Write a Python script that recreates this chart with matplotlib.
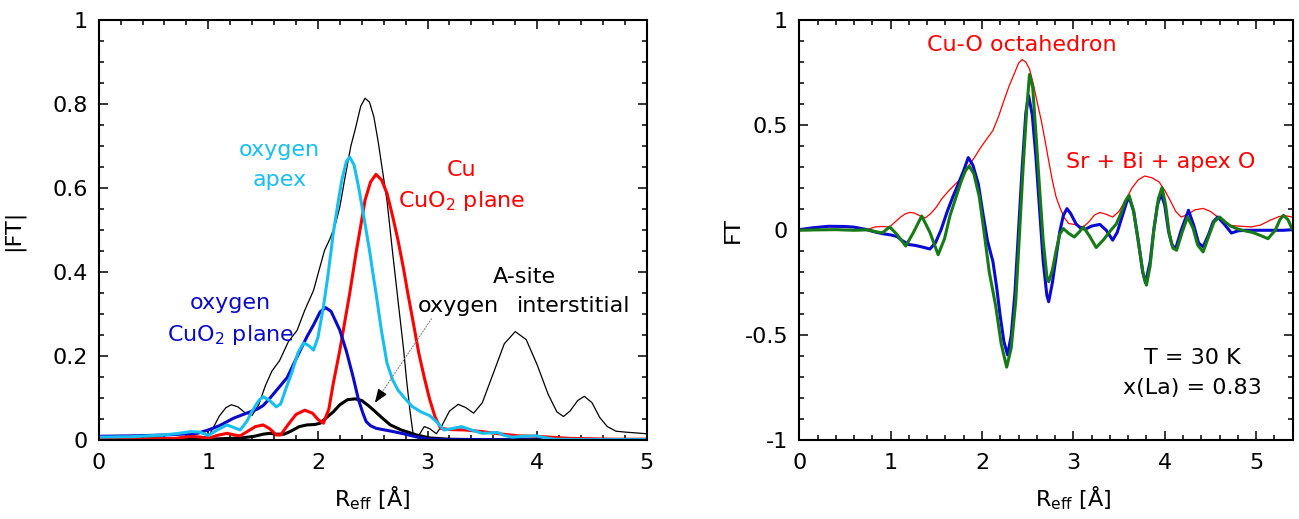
import numpy as np
import matplotlib
matplotlib.use("Agg")
import matplotlib.pyplot as plt
from matplotlib.ticker import MultipleLocator, FuncFormatter

plt.rcParams['font.family'] = ['DejaVu Sans']
plt.rcParams['mathtext.fontset'] = 'dejavusans'
plt.rcParams['axes.unicode_minus'] = False

# --- left panel: |FT| contributions (R_eff, |FT|) ---
total_abs = [(0.0, 0.006), (0.3, 0.006), (0.6, 0.006), (0.9, 0.007), (1.0, 0.009), (1.05, 0.033),
             (1.1, 0.058), (1.16, 0.078), (1.21, 0.085), (1.27, 0.08), (1.33, 0.067), (1.4, 0.06),
             (1.46, 0.085), (1.52, 0.13), (1.58, 0.165), (1.65, 0.19), (1.73, 0.235), (1.81, 0.262),
             (1.88, 0.31), (1.96, 0.357), (2.01, 0.405), (2.06, 0.452), (2.11, 0.48), (2.16, 0.515),
             (2.2, 0.556), (2.25, 0.63), (2.3, 0.7), (2.34, 0.74), (2.39, 0.795), (2.43, 0.814),
             (2.47, 0.805), (2.51, 0.77), (2.55, 0.71), (2.59, 0.64), (2.63, 0.57), (2.68, 0.45),
             (2.73, 0.334), (2.78, 0.22), (2.81, 0.14), (2.84, 0.07), (2.87, 0.012), (2.92, 0.012),
             (2.97, 0.033), (3.02, 0.028), (3.08, 0.016), (3.13, 0.035), (3.2, 0.07), (3.28, 0.086),
             (3.35, 0.078), (3.42, 0.065), (3.5, 0.09), (3.6, 0.16), (3.7, 0.23), (3.8, 0.259),
             (3.9, 0.24), (4.0, 0.18), (4.1, 0.11), (4.18, 0.068), (4.24, 0.057), (4.3, 0.07),
             (4.37, 0.095), (4.43, 0.105), (4.5, 0.09), (4.57, 0.055), (4.64, 0.033), (4.72, 0.022),
             (4.8, 0.02), (4.9, 0.018), (5.0, 0.016)]

o_plane = [(0.0, 0.01), (0.3, 0.011), (0.6, 0.013), (0.9, 0.017), (1.0, 0.025), (1.1, 0.035),
           (1.23, 0.053), (1.35, 0.065), (1.45, 0.075), (1.5, 0.083), (1.56, 0.1), (1.65, 0.128),
           (1.72, 0.15), (1.78, 0.183), (1.84, 0.215), (1.9, 0.247), (1.96, 0.275), (2.02, 0.306),
           (2.07, 0.316), (2.12, 0.307), (2.2, 0.262), (2.26, 0.212), (2.32, 0.152), (2.37, 0.097),
           (2.41, 0.065), (2.44, 0.045), (2.48, 0.035), (2.53, 0.029), (2.61, 0.025), (2.69, 0.021),
           (2.78, 0.016), (2.86, 0.011), (2.94, 0.006), (3.02, 0.003), (3.2, 0.002), (3.5, 0.002),
           (4.0, 0.001), (5.0, 0.001)]

o_apex = [(0.0, 0.008), (0.3, 0.009), (0.58, 0.013), (0.7, 0.016), (0.84, 0.021), (0.92, 0.02),
          (1.0, 0.012), (1.08, 0.025), (1.17, 0.037), (1.24, 0.03), (1.29, 0.025), (1.35, 0.045),
          (1.4, 0.07), (1.46, 0.095), (1.5, 0.104), (1.56, 0.095), (1.62, 0.08), (1.66, 0.087),
          (1.71, 0.125), (1.76, 0.16), (1.82, 0.21), (1.87, 0.232), (1.92, 0.225), (1.96, 0.215),
          (2.0, 0.245), (2.05, 0.318), (2.09, 0.39), (2.14, 0.493), (2.18, 0.56), (2.22, 0.622),
          (2.26, 0.664), (2.29, 0.674), (2.33, 0.655), (2.37, 0.604), (2.42, 0.53), (2.47, 0.453),
          (2.5, 0.4), (2.53, 0.35), (2.58, 0.26), (2.63, 0.184), (2.68, 0.145), (2.73, 0.12),
          (2.8, 0.098), (2.86, 0.081), (2.94, 0.068), (3.02, 0.059), (3.08, 0.045), (3.15, 0.025),
          (3.22, 0.028), (3.31, 0.033), (3.4, 0.025), (3.5, 0.017), (3.57, 0.018), (3.64, 0.019),
          (3.7, 0.012), (3.77, 0.008), (3.88, 0.01), (3.99, 0.011), (4.08, 0.006), (4.16, 0.003),
          (4.5, 0.002), (5.0, 0.002)]

cu_plane = [(0.0, 0.003), (0.4, 0.003), (0.7, 0.005), (0.84, 0.01), (0.93, 0.008), (1.0, 0.005),
            (1.08, 0.012), (1.17, 0.017), (1.24, 0.013), (1.29, 0.011), (1.36, 0.022), (1.43, 0.033),
            (1.5, 0.037), (1.56, 0.028), (1.62, 0.013), (1.66, 0.013), (1.72, 0.035), (1.8, 0.062),
            (1.88, 0.072), (1.95, 0.065), (2.0, 0.05), (2.05, 0.041), (2.1, 0.075), (2.14, 0.136),
            (2.2, 0.215), (2.25, 0.29), (2.29, 0.35), (2.35, 0.45), (2.39, 0.51), (2.43, 0.572),
            (2.48, 0.615), (2.53, 0.633), (2.58, 0.62), (2.63, 0.588), (2.68, 0.535), (2.73, 0.477),
            (2.78, 0.41), (2.82, 0.35), (2.87, 0.28), (2.92, 0.208), (2.97, 0.15), (3.02, 0.097),
            (3.07, 0.055), (3.12, 0.029), (3.2, 0.026), (3.34, 0.025), (3.5, 0.021), (3.65, 0.016),
            (3.83, 0.011), (3.99, 0.01), (4.3, 0.005), (4.7, 0.003), (5.0, 0.003)]

o_inter = [(0.0, 0.002), (0.5, 0.002), (1.0, 0.003), (1.3, 0.006), (1.42, 0.01), (1.5, 0.015),
           (1.56, 0.017), (1.62, 0.015), (1.69, 0.015), (1.745, 0.021), (1.83, 0.033), (1.9, 0.037),
           (1.97, 0.038), (2.02, 0.041), (2.08, 0.055), (2.14, 0.068), (2.2, 0.085), (2.27, 0.097),
           (2.34, 0.099), (2.4, 0.095), (2.46, 0.083), (2.5, 0.074), (2.58, 0.055), (2.66, 0.037),
           (2.76, 0.025), (2.9, 0.013), (3.02, 0.006), (3.2, 0.003), (3.5, 0.002), (4.0, 0.002),
           (5.0, 0.002)]

# --- right panel: FT (R_eff, FT) ---
octahedron = [(0.0, 0.0), (0.3, 0.0), (0.6, 0.002), (0.75, 0.004), (0.83, 0.016), (0.9, 0.018),
              (0.99, 0.016), (1.05, 0.04), (1.11, 0.063), (1.16, 0.078), (1.21, 0.085), (1.26, 0.082),
              (1.31, 0.071), (1.38, 0.059), (1.44, 0.08), (1.5, 0.11), (1.56, 0.15), (1.64, 0.19),
              (1.72, 0.225), (1.8, 0.26), (1.86, 0.31), (1.92, 0.348), (1.98, 0.39), (2.04, 0.427),
              (2.12, 0.475), (2.18, 0.54), (2.24, 0.617), (2.3, 0.69), (2.36, 0.752), (2.4, 0.795),
              (2.44, 0.812), (2.48, 0.8), (2.52, 0.767), (2.56, 0.7), (2.6, 0.617), (2.65, 0.52),
              (2.69, 0.427), (2.73, 0.33), (2.77, 0.237), (2.81, 0.16), (2.85, 0.111), (2.9, 0.06),
              (2.95, 0.032), (3.01, 0.028), (3.06, 0.02), (3.11, 0.016), (3.17, 0.04), (3.23, 0.072),
              (3.29, 0.085), (3.36, 0.076), (3.43, 0.063), (3.5, 0.09), (3.57, 0.142), (3.64, 0.2),
              (3.71, 0.24), (3.78, 0.258), (3.86, 0.25), (3.94, 0.229), (4.0, 0.19), (4.06, 0.142),
              (4.12, 0.09), (4.18, 0.063), (4.25, 0.075), (4.33, 0.097), (4.42, 0.104), (4.5, 0.09),
              (4.58, 0.063), (4.65, 0.038), (4.71, 0.024), (4.8, 0.02), (4.95, 0.016), (5.05, 0.025),
              (5.15, 0.047), (5.25, 0.065), (5.31, 0.07), (5.4, 0.063)]

ft_blue = [(0.0, 0.003), (0.15, 0.012), (0.32, 0.019), (0.5, 0.018), (0.6, 0.015), (0.72, 0.005),
           (0.83, -0.008), (0.91, -0.016), (1.0, -0.022), (1.07, -0.03), (1.13, -0.05), (1.2, -0.068),
           (1.27, -0.072), (1.35, -0.08), (1.43, -0.089), (1.49, -0.06), (1.55, 0.0), (1.62, 0.09),
           (1.68, 0.158), (1.74, 0.22), (1.8, 0.285), (1.85, 0.346), (1.9, 0.31), (1.96, 0.22),
           (2.01, 0.08), (2.06, -0.05), (2.12, -0.15), (2.16, -0.27), (2.2, -0.41), (2.24, -0.53),
           (2.28, -0.593), (2.32, -0.5), (2.36, -0.3), (2.4, 0.0), (2.44, 0.3), (2.48, 0.56),
           (2.51, 0.641), (2.55, 0.55), (2.59, 0.35), (2.63, 0.1), (2.67, -0.15), (2.71, -0.31),
           (2.73, -0.34), (2.77, -0.25), (2.81, -0.13), (2.85, -0.01), (2.89, 0.07), (2.93, 0.103),
           (2.97, 0.08), (3.03, 0.03), (3.08, 0.01), (3.13, 0.005), (3.2, 0.02), (3.29, 0.028),
           (3.36, 0.0), (3.43, -0.047), (3.48, -0.01), (3.53, 0.06), (3.58, 0.13), (3.61, 0.158),
           (3.66, 0.09), (3.71, -0.05), (3.76, -0.2), (3.79, -0.25), (3.84, -0.15), (3.88, 0.0),
           (3.92, 0.12), (3.96, 0.174), (4.0, 0.12), (4.04, 0.0), (4.08, -0.07), (4.12, -0.087),
           (4.18, 0.0), (4.26, 0.095), (4.32, 0.02), (4.37, -0.06), (4.42, -0.079), (4.48, -0.02),
           (4.53, 0.04), (4.58, 0.063), (4.65, 0.03), (4.73, -0.013), (4.8, -0.003), (4.87, 0.0),
           (5.0, 0.0), (5.19, 0.0), (5.3, 0.0), (5.4, 0.003)]

ft_green = [(0.0, 0.0), (0.2, 0.002), (0.4, 0.003), (0.6, 0.0), (0.75, 0.002), (0.85, -0.008),
            (0.91, -0.012), (0.99, 0.016), (1.07, -0.02), (1.165, -0.075), (1.25, -0.01), (1.34, 0.068),
            (1.43, -0.01), (1.52, -0.116), (1.59, -0.04), (1.65, 0.07), (1.71, 0.15), (1.77, 0.23),
            (1.82, 0.285), (1.86, 0.305), (1.91, 0.27), (1.97, 0.16), (2.02, 0.0), (2.08, -0.2),
            (2.15, -0.36), (2.21, -0.54), (2.27, -0.651), (2.32, -0.56), (2.37, -0.333), (2.41, -0.02),
            (2.45, 0.3), (2.49, 0.58), (2.52, 0.741), (2.555, 0.68), (2.59, 0.46), (2.63, 0.2),
            (2.67, -0.05), (2.71, -0.22), (2.73, -0.245), (2.77, -0.19), (2.81, -0.1), (2.85, -0.02),
            (2.89, 0.008), (2.95, -0.015), (3.01, -0.032), (3.06, -0.01), (3.11, 0.016), (3.18, -0.03),
            (3.25, -0.082), (3.33, -0.045), (3.41, 0.0), (3.47, 0.03), (3.52, 0.08), (3.57, 0.14),
            (3.61, 0.166), (3.66, 0.09), (3.71, -0.05), (3.76, -0.2), (3.8, -0.261), (3.84, -0.17),
            (3.88, 0.0), (3.93, 0.15), (3.97, 0.203), (4.01, 0.12), (4.05, -0.02), (4.09, -0.085),
            (4.13, -0.095), (4.19, -0.01), (4.25, 0.063), (4.31, 0.01), (4.36, -0.07), (4.42, -0.103),
            (4.48, -0.03), (4.54, 0.04), (4.6, 0.063), (4.66, 0.04), (4.72, 0.02), (4.8, 0.006),
            (4.88, -0.003), (4.96, -0.01), (5.05, -0.025), (5.13, -0.04), (5.21, 0.0), (5.26, 0.05),
            (5.3, 0.071), (5.35, 0.05), (5.4, 0.0)]

FS = 16
CYAN = '#19BEF0'
BLUE = '#0A0AC8'
RED = '#FF0000'
GREEN = '#167A16'


def style_axes(ax, xminor, ymajor, yminor):
    ax.xaxis.set_major_locator(MultipleLocator(1))
    ax.xaxis.set_minor_locator(MultipleLocator(xminor))
    ax.yaxis.set_major_locator(MultipleLocator(ymajor))
    ax.yaxis.set_minor_locator(MultipleLocator(yminor))
    fmt = FuncFormatter(lambda v, p: f'{round(v, 3) + 0:g}')
    ax.xaxis.set_major_formatter(fmt)
    ax.yaxis.set_major_formatter(fmt)
    ax.tick_params(which='both', direction='in', top=True, right=True, width=1.1)
    ax.tick_params(which='major', length=6.5, labelsize=FS)
    ax.tick_params(axis='x', which='major', pad=9)
    ax.tick_params(axis='y', which='major', pad=8)
    ax.tick_params(which='minor', length=3.4)
    for s in ax.spines.values():
        s.set_linewidth(1.5)


def draw(ax, data, color, lw):
    arr = np.array(data)
    ax.plot(arr[:, 0], arr[:, 1], color=color, lw=lw)


fig = plt.figure(figsize=(12.99, 5.19), dpi=100)
ax1 = fig.add_axes([0.076, 0.1513, 0.4219, 0.810])
ax2 = fig.add_axes([0.6153, 0.1513, 0.3798, 0.810])

# left panel
draw(ax1, total_abs, 'black', 0.9)
draw(ax1, o_inter, 'black', 2.2)
draw(ax1, cu_plane, RED, 2.2)
draw(ax1, o_plane, BLUE, 2.2)
draw(ax1, o_apex, CYAN, 2.2)
ax1.set_xlim(0, 5)
ax1.set_ylim(0, 1)
style_axes(ax1, 0.2, 0.2, 0.05)
ax1.set_xlabel(r'R$_{\mathrm{eff}}$ [Å]', fontsize=FS)
ax1.xaxis.set_label_coords(0.5, -0.105)
ax1.text(-0.155, 0.5, '|FT|', transform=ax1.transAxes, rotation=90,
         ha='center', va='center', fontsize=FS)

ax1.text(1.65, 0.676, 'oxygen', color=CYAN, fontsize=FS, ha='center', va='baseline')
ax1.text(1.65, 0.605, 'apex', color=CYAN, fontsize=FS, ha='center', va='baseline')
ax1.text(3.31, 0.628, 'Cu', color=RED, fontsize=FS, ha='center', va='baseline')
ax1.text(3.31, 0.555, r'CuO$_2$ plane', color=RED, fontsize=FS, ha='center', va='baseline')
ax1.text(1.2, 0.312, 'oxygen', color=BLUE, fontsize=FS, ha='center', va='baseline')
ax1.text(1.2, 0.236, r'CuO$_2$ plane', color=BLUE, fontsize=FS, ha='center', va='baseline')
ax1.text(3.88, 0.375, 'A-site', color='black', fontsize=FS, ha='center', va='baseline')
ax1.text(3.28, 0.305, 'oxygen', color='black', fontsize=FS, ha='center', va='baseline')
ax1.text(4.33, 0.305, 'interstitial', color='black', fontsize=FS, ha='center', va='baseline')

# dotted leader with a black head pointing at the interstitial curve
ax1.annotate('', xy=(2.56, 0.105), xytext=(3.05, 0.295),
             arrowprops=dict(arrowstyle='-', color='gray', lw=0.8, linestyle=':'))
ax1.annotate('', xy=(2.505, 0.084), xytext=(2.58, 0.113),
             arrowprops=dict(arrowstyle='-|>,head_length=0.8,head_width=0.3',
                             color='black', lw=1.0))

# right panel
draw(ax2, octahedron, RED, 0.9)
draw(ax2, ft_blue, '#0A0AD2', 2.2)
draw(ax2, ft_green, GREEN, 2.2)
ax2.set_xlim(0, 5.4)
ax2.set_ylim(-1, 1)
style_axes(ax2, 0.2, 0.5, 0.1)
ax2.set_xlabel(r'R$_{\mathrm{eff}}$ [Å]', fontsize=FS)
ax2.xaxis.set_label_coords(0.556, -0.105)
ax2.text(-0.134, 0.5, 'FT', transform=ax2.transAxes, rotation=90,
         ha='center', va='center', fontsize=FS)

ax2.text(2.44, 0.851, 'Cu-O octahedron', color=RED, fontsize=FS, ha='center', va='baseline')
ax2.text(3.96, 0.297, 'Sr + Bi + apex O', color=RED, fontsize=FS, ha='center', va='baseline')
ax2.text(4.30, -0.636, 'T = 30 K', color='black', fontsize=FS, ha='center', va='baseline')
ax2.text(4.30, -0.778, 'x(La) = 0.83', color='black', fontsize=FS, ha='center', va='baseline')

fig.savefig('out.png', dpi=100)
